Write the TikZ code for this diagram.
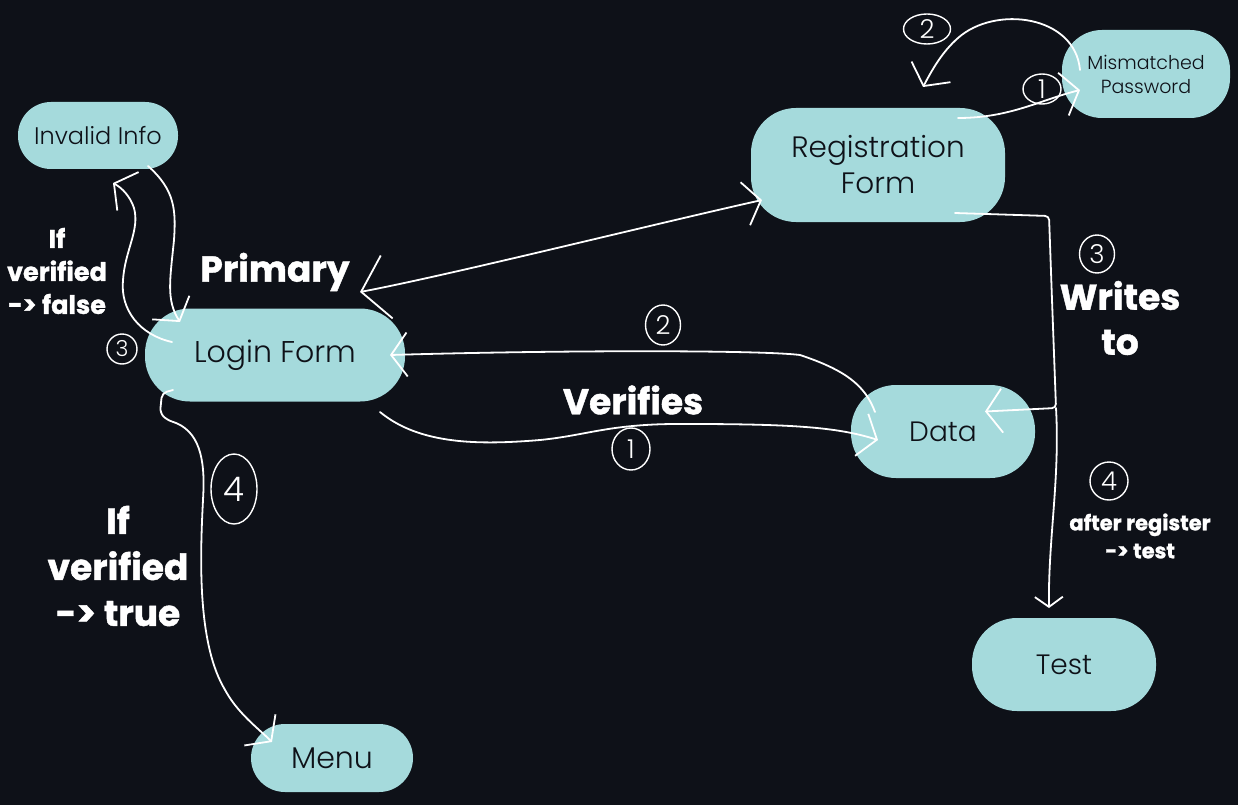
\documentclass[tikz,border=0pt]{standalone}
\usepackage{fontspec}
\setmainfont{Poppins}
\newfontfamily\lightfont{Poppins Light}
\newfontfamily\heavyfont{Poppins}[BoldFeatures={FakeBold=1.2}]
\usetikzlibrary{arrows.meta,shapes.geometric}
\definecolor{bg}{HTML}{0E1118}
\definecolor{pillfill}{HTML}{A5DADC}
\definecolor{ink}{HTML}{0E1118}
\tikzset{
  pill/.style={fill=pillfill, text=ink, inner sep=0pt, align=center},
  conn/.style={draw=white, line width=1.8pt, line cap=round, line join=round},
  bigtip/.style={-{Straight Barb[length=16pt,width=44pt]}},
  smalltip/.style={-{Straight Barb[length=10pt,width=28pt]}},
  lbl/.style={text=white, align=center, inner sep=0pt},
  num/.style={ellipse, draw=white, line width=1.4pt, text=white, inner sep=0pt, font=\lightfont\fontsize{26}{28}\selectfont},
}
\begin{document}
\begin{tikzpicture}[x=1pt,y=-1pt]
\path[fill=bg] (0,0) rectangle (1238,805);
\useasboundingbox (0,0) rectangle (1238,805);

% nodes
\node[pill, minimum width=160pt, minimum height=67pt, rounded corners=33pt, font=\lightfont\fontsize{24}{28}\selectfont] (invalid) at (98,135.5) {Invalid Info};
\node[pill, minimum width=168pt, minimum height=88pt, rounded corners=40pt, font=\lightfont\fontsize{19}{24}\selectfont] (mismatch) at (1146,74) {Mismatched\\Password};
\node[pill, minimum width=254pt, minimum height=114pt, rounded corners=45pt, font=\lightfont\fontsize{29.5}{36}\selectfont] (reg) at (878,165) {Registration\\Form};
\node[pill, minimum width=260pt, minimum height=93pt, rounded corners=45pt, font=\lightfont\fontsize{30}{34}\selectfont] (login) at (275,355) {Login Form};
\node[pill, minimum width=184pt, minimum height=93pt, rounded corners=45pt, font=\lightfont\fontsize{28}{34}\selectfont] (data) at (943,431.5) {Data};
\node[pill, minimum width=184pt, minimum height=93pt, rounded corners=45pt, font=\lightfont\fontsize{28}{34}\selectfont] (test) at (1064,664.5) {Test};
\node[pill, minimum width=162pt, minimum height=68pt, rounded corners=34pt, font=\lightfont\fontsize{30}{32}\selectfont] (menu) at (332,758) {Menu};

% labels
\node[lbl, font=\heavyfont\bfseries\fontsize{36}{40}\selectfont] (primary) at (275,272) {Primary};
\node[lbl, font=\heavyfont\bfseries\fontsize{36}{40}\selectfont] (verifies) at (633,400) {Verifies};
\node[lbl, font=\heavyfont\bfseries\fontsize{36}{45}\selectfont] (writes) at (1120,318) {Writes\\to};
\node[lbl, font=\heavyfont\bfseries\fontsize{36}{46}\selectfont] (vtrue) at (118,566) {If\\verified\\-> true};
\node[lbl, font=\heavyfont\bfseries\fontsize{25.5}{33}\selectfont] (vfalse) at (57,271) {If\\verified\\-> false};
\node[lbl, font=\heavyfont\bfseries\fontsize{21}{28}\selectfont] (aftreg) at (1140,536) {after register\\-> test};

% circled numbers
\node[num, minimum width=47pt, minimum height=30pt] (n2a) at (927,29) {2};
\node[num, minimum width=38pt, minimum height=30pt] (n1a) at (1042,89) {1};
\node[num, minimum width=35pt, minimum height=38pt] (n3a) at (1097,254) {3};
\node[num, minimum width=35pt, minimum height=40pt] (n2b) at (663,325) {2};
\node[num, minimum width=38pt, minimum height=42pt] (n1b) at (631,449) {1};
\node[num, minimum width=30pt, minimum height=30pt, font=\lightfont\fontsize{22}{24}\selectfont] (n3b) at (122,349) {3};
\node[num, minimum width=46pt, minimum height=70pt, font=\lightfont\fontsize{34}{36}\selectfont] (n4a) at (234,489) {4};
\node[num, minimum width=38pt, minimum height=38pt] (n4b) at (1109,481) {4};

% connectors
% Primary: Login <-> Registration
\draw[conn, {Straight Barb[length=26pt,width=64pt]}-{Straight Barb[length=16pt,width=44pt]}]
  ([shift={(85,-63)}]login.center) .. controls (450,275) and (650,225) .. ([shift={(-116,35)}]reg.center);
% Registration -> Mismatched (1)
\draw[conn, bigtip] ([shift={(80,-47)}]reg.center) .. controls (1010,118) and (1040,100) .. ([shift={(-66,16)}]mismatch.center);
% Mismatched -> back (2)
\draw[conn, bigtip] ([shift={(-66,-4)}]mismatch.center) .. controls (1075,15) and (995,5) .. (958,38) .. controls (942,52) and (932,70) .. ([shift={(45,-78)}]reg.center);
% Registration -> Data (3)
\draw[conn, bigtip, rounded corners=4pt] ([shift={(77,48)}]reg.center) -- (1049,216) -- (1052,300) -- (1056,408) -- ([shift={(42,-20)}]data.center);
% Data -> Test (4)
\draw[conn, smalltip] ([shift={(113,-23.5)}]data.center) .. controls (1060,480) and (1048,540) .. ([shift={(-15,-56.5)}]test.center);
% Login -> Data (1)
\draw[conn, bigtip] ([shift={(105,57)}]login.center) .. controls (420,445) and (480,445) .. (540,440) .. controls (590,435) and (610,423) .. (690,424) .. controls (800,424) and (840,428) .. ([shift={(-65,8.5)}]data.center);
% Data -> Login (2)
\draw[conn, bigtip] ([shift={(-68,-19.5)}]data.center) .. controls (865,385) and (845,370) .. (800,355) .. controls (760,350) and (560,350) .. ([shift={(115,0)}]login.center);
% Invalid -> Login
\draw[conn, bigtip] ([shift={(50,30.5)}]invalid.center) .. controls (175,190) and (176,210) .. (174,240) .. controls (170,280) and (166,300) .. ([shift={(-95,-33)}]login.center);
% Login -> Invalid (3)
\draw[conn, bigtip] ([shift={(-103,-13)}]login.center) .. controls (140,335) and (120,310) .. (123,280) .. controls (125,250) and (140,230) .. (134,208) .. controls (130,196) and (122,188) .. ([shift={(15,47.5)}]invalid.center);
% Login -> Menu (4)
\draw[conn, bigtip, rounded corners=5pt] ([shift={(-102,35)}]login.center) -- (162,393) -- (160,413) -- (167,420) .. controls (200,430) and (205,460) .. (203,500) .. controls (200,560) and (198,640) .. (225,690) .. controls (240,715) and (260,730) .. ([shift={(-60,-16)}]menu.center);
\end{tikzpicture}
\end{document}
